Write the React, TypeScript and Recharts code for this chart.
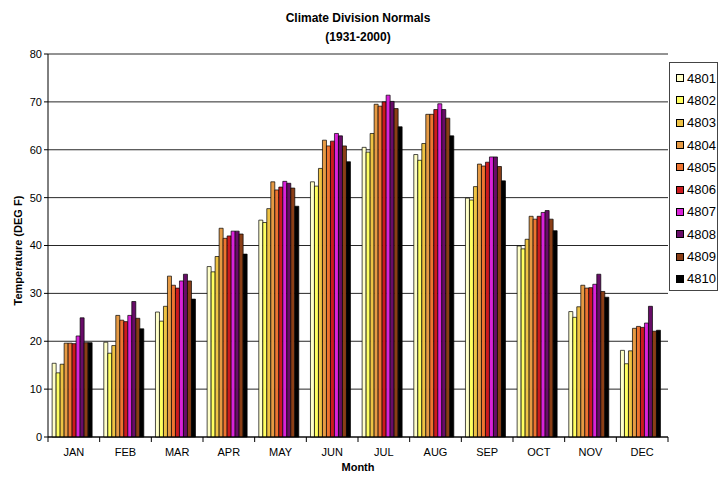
import { Bar, BarChart, CartesianGrid, XAxis, YAxis } from "recharts"

const months = ["JAN", "FEB", "MAR", "APR", "MAY", "JUN", "JUL", "AUG", "SEP", "OCT", "NOV", "DEC"]

const s4801 = [15.4, 19.8, 26.1, 35.6, 45.3, 53.3, 60.5, 59.0, 49.9, 39.9, 26.2, 18.1]
const s4802 = [13.4, 17.5, 24.2, 34.5, 44.8, 52.4, 59.5, 57.8, 49.5, 39.3, 25.0, 15.3]
const s4803 = [15.2, 19.1, 27.3, 37.7, 47.7, 56.1, 63.4, 61.3, 52.3, 41.3, 27.2, 18.0]
const s4804 = [19.6, 25.4, 33.6, 43.6, 53.3, 62.0, 69.5, 67.4, 57.0, 46.1, 31.7, 22.7]
const s4805 = [19.6, 24.4, 31.7, 41.5, 51.6, 60.8, 69.1, 67.4, 56.6, 45.5, 31.1, 23.1]
const s4806 = [19.5, 24.1, 31.1, 42.0, 52.2, 61.8, 70.0, 68.4, 57.4, 46.1, 31.2, 22.9]
const s4807 = [21.1, 25.4, 32.6, 43.0, 53.4, 63.4, 71.4, 69.6, 58.5, 46.9, 31.9, 23.8]
const s4808 = [24.9, 28.3, 34.0, 43.0, 53.0, 62.9, 70.1, 68.4, 58.5, 47.3, 34.0, 27.3]
const s4809 = [19.7, 24.8, 32.6, 42.4, 52.0, 60.8, 68.6, 66.6, 56.5, 45.5, 30.4, 22.1]
const s4810 = [19.7, 22.6, 28.8, 38.2, 48.2, 57.5, 64.8, 62.9, 53.5, 43.1, 29.2, 22.3]

const yTicks = [0, 10, 20, 30, 40, 50, 60, 70, 80]

const series = [
  { key: "4801", values: s4801, color: "#FFFFC8" },
  { key: "4802", values: s4802, color: "#FFFF60" },
  { key: "4803", values: s4803, color: "#EEC244" },
  { key: "4804", values: s4804, color: "#E69A44" },
  { key: "4805", values: s4805, color: "#EE7430" },
  { key: "4806", values: s4806, color: "#CC1A1E" },
  { key: "4807", values: s4807, color: "#D922D9" },
  { key: "4808", values: s4808, color: "#680C68" },
  { key: "4809", values: s4809, color: "#8A3E16" },
  { key: "4810", values: s4810, color: "#000000" },
]

const data = months.map((m, i) => {
  const row: Record<string, string | number> = { month: m }
  series.forEach((s) => {
    row[s.key] = s.values[i]
  })
  return row
})

const FONT = "'Liberation Sans', Arial, sans-serif"
const BAND = 620 / 12

const MonthTick = (props: any) => {
  const { x, y, payload, index } = props
  const left = x - BAND / 2
  return (
    <g>
      <line x1={left} y1={y - 8} x2={left} y2={y - 3} stroke="#000" />
      {index === months.length - 1 && (
        <line x1={x + BAND / 2} y1={y - 8} x2={x + BAND / 2} y2={y - 3} stroke="#000" />
      )}
      <text x={x} y={y + 11} textAnchor="middle" fontSize={11} fontFamily={FONT} fill="#000">
        {payload.value}
      </text>
    </g>
  )
}

const LegendBox = () => (
  <div
    style={{
      position: "absolute",
      left: 669,
      top: 62,
      width: 49,
      height: 229,
      border: "1px solid #444",
      background: "#fff",
      boxSizing: "border-box",
      fontFamily: FONT,
      fontSize: 13,
      paddingTop: 4,
    }}
  >
    {series.map((s) => (
      <div key={s.key} style={{ display: "flex", alignItems: "center", height: 22.3 }}>
        <span
          style={{
            display: "inline-block",
            width: 6,
            height: 6,
            marginLeft: 6,
            marginRight: 3,
            background: s.color,
            border: "1px solid #000",
          }}
        />
        <span>{s.key}</span>
      </div>
    ))}
  </div>
)

export default function App() {
  return (
    <div style={{ position: "absolute", left: 0, top: 0, width: 720, height: 481, background: "#fff" }}>
      <div
        style={{
          position: "absolute",
          left: 0,
          width: 716,
          top: 9,
          textAlign: "center",
          fontFamily: FONT,
          fontSize: 12,
          fontWeight: "bold",
          lineHeight: "19px",
        }}
      >
        <div>Climate Division Normals</div>
        <div>(1931-2000)</div>
      </div>
      <BarChart
        width={720}
        height={481}
        data={data}
        margin={{ top: 54, right: 52, bottom: 4, left: 18 }}
        barCategoryGap="8%"
        barGap={0}
      >
        <CartesianGrid vertical={false} stroke="#000" strokeOpacity={0.85} />
        <XAxis
          dataKey="month"
          stroke="#000"
          height={40}
          tickLine={false}
          tick={<MonthTick />}
          interval={0}
          label={{ value: "Month", position: "insideBottom", offset: 6, fontSize: 11, fontWeight: "bold", fill: "#000", fontFamily: FONT }}
        />
        <YAxis
          width={30}
          domain={[0, 80]}
          ticks={yTicks}
          stroke="#000"
          tick={{ fontSize: 11, fill: "#000", fontFamily: FONT }}
          tickSize={4}
          label={{
            value: "Temperature (DEG F)",
            angle: -90,
            position: "insideLeft",
            offset: 0,
            dy: 60,
            fontSize: 11,
            fontWeight: "bold",
            fill: "#000",
            fontFamily: FONT,
          }}
        />
        {series.map((s) => (
          <Bar key={s.key} dataKey={s.key} fill={s.color} stroke="#000" strokeWidth={0.7} isAnimationActive={false} />
        ))}
      </BarChart>
      <LegendBox />
    </div>
  )
}
